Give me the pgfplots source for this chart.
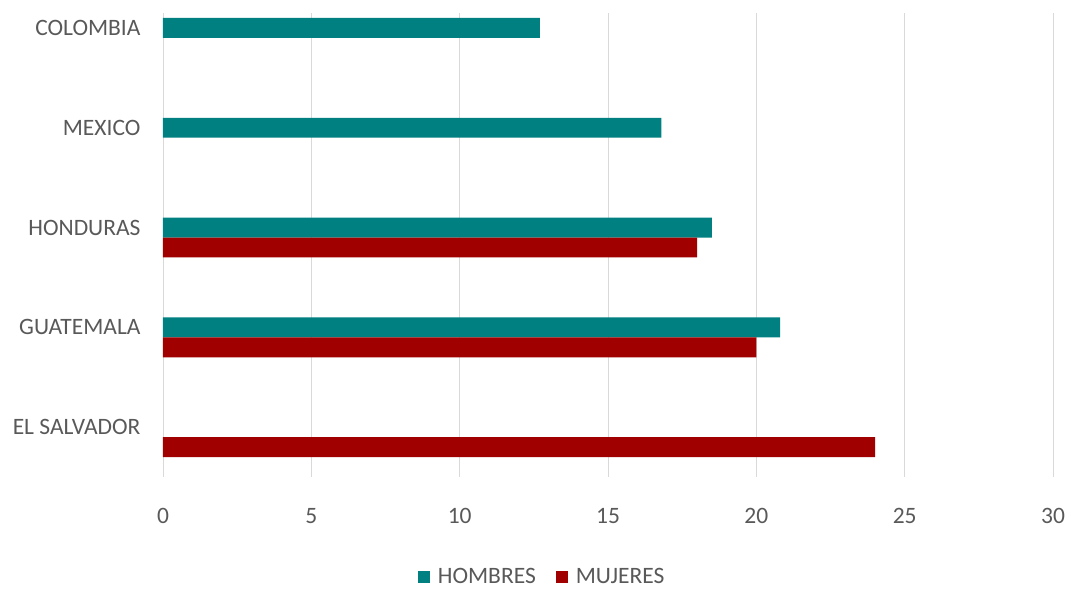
\documentclass[border=0pt]{standalone}
\usepackage{fontspec}
\setmainfont{Carlito}
\usepackage{pgfplots}
\pgfplotsset{compat=1.18}
\definecolor{hombres}{HTML}{008080}
\definecolor{mujeres}{HTML}{A00000}
\definecolor{txt}{HTML}{595959}
\definecolor{grd}{HTML}{D9D9D9}
\begin{document}
\begin{tikzpicture}
\begin{axis}[
    at={(0pt,0pt)}, anchor=south west,
    scale only axis, width=890pt, height=464pt,
    xmin=0, xmax=30, ymin=-0.5, ymax=4.15,
    xtick={0,5,...,30}, ytick={0,...,4},
    yticklabels={EL SALVADOR,GUATEMALA,HONDURAS,MEXICO,COLOMBIA},
    xmajorgrids, grid style={grd, line width=0.8pt},
    axis line style={draw=none},
    major tick length=0pt,
    tick label style={font=\fontsize{23.5}{28}\selectfont, text=txt},
    /pgf/number format/assume math mode=true,
    xticklabel style={yshift=-28pt},
    yticklabel style={xshift=-19pt},
    xbar, bar width=0.2,
    legend style={at={(0.426,-0.2155)}, anchor=center, draw=none,
        legend columns=2, font=\fontsize{23.5}{28}\selectfont, text=txt,
        /tikz/every odd column/.append style={column sep=6pt},
        /tikz/every even column/.append style={column sep=18pt}},
    legend image code/.code={\fill[#1] (0pt,-6pt) rectangle (12pt,6pt);},
]
% HOMBRES
\addplot[fill=hombres, draw=none, bar shift=0]
coordinates {(12.7,4) (16.8,3) (18.5,2) (20.8,1)};
\addlegendentry{HOMBRES}
% MUJERES
\addplot[fill=mujeres, draw=none, bar shift=-0.2]
coordinates {(18.0,2) (20.0,1) (24.0,0)};
\addlegendentry{MUJERES}
\end{axis}
\pgfresetboundingbox
\path[use as bounding box] (-163pt,-112pt) rectangle (905pt,477pt);
\end{tikzpicture}
\end{document}
